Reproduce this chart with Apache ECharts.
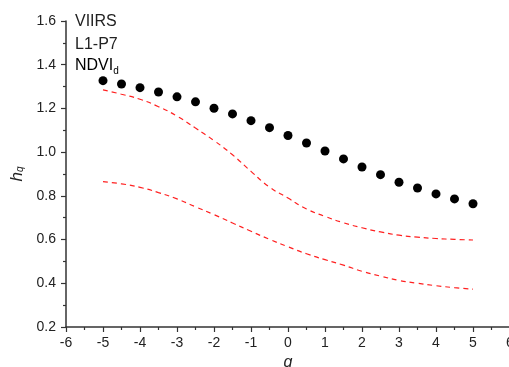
<!DOCTYPE html>
<html>
<head>
<meta charset="utf-8">
<script src="https://cdn.jsdelivr.net/npm/echarts@6/dist/echarts.min.js"></script>
<style>html,body{margin:0;padding:0;background:#fff;}#c{width:509px;height:367px;}</style>
</head>
<body>
<div id="c"></div>
<script>
const qValues = [-5,-4.5,-4,-3.5,-3,-2.5,-2,-1.5,-1,-0.5,0,0.5,1,1.5,2,2.5,3,3.5,4,4.5,5];
const hq = [1.327,1.312,1.295,1.275,1.253,1.230,1.201,1.175,1.144,1.112,1.076,1.042,1.005,0.969,0.932,0.897,0.862,0.836,0.809,0.786,0.764];
const upperBound = [1.285,1.265,1.242,1.208,1.165,1.110,1.053,0.988,0.912,0.840,0.790,0.740,0.706,0.677,0.654,0.635,0.620,0.611,0.605,0.601,0.598];
const lowerBound = [0.865,0.855,0.839,0.815,0.786,0.750,0.714,0.676,0.638,0.601,0.567,0.535,0.508,0.483,0.455,0.433,0.413,0.400,0.389,0.380,0.373];
const labels = ['VIIRS','L1-P7','NDVI'];

const chart = echarts.init(document.getElementById('c'), null, {renderer:'canvas'});
const pair = (xs, ys) => xs.map((x,i)=>[x, ys[i]]);
const axisColor = '#333';
const font = 'Liberation Sans, Arial, sans-serif';
chart.setOption({
  animation:false,
  backgroundColor:'#fff',
  grid:{left:66, top:21, width:444, height:306, containLabel:false, outerBoundsMode:'none'},
  xAxis:{
    type:'value', min:-6, max:6, interval:1,
    name:'q', nameLocation:'middle', nameGap:27,
    nameTextStyle:{fontFamily:font, fontSize:16, fontStyle:'italic', color:'#222'},
    axisLine:{onZero:false, lineStyle:{color:axisColor, width:1.5}},
    axisTick:{show:true, length:5, lineStyle:{color:axisColor, width:1.2}},
    minorTick:{show:true, splitNumber:2, length:3, lineStyle:{color:axisColor, width:1.2}},
    axisLabel:{fontFamily:font, fontSize:14, color:'#222', margin:9, hideOverlap:false},
    splitLine:{show:false}
  },
  yAxis:{
    type:'value', min:0.2, max:1.6, interval:0.2,
    name:'{h|h}{s|q}', nameLocation:'middle', nameGap:38, nameRotate:90,
    nameTextStyle:{rich:{
      h:{fontFamily:font, fontSize:17, fontStyle:'italic', color:'#222'},
      s:{fontFamily:font, fontSize:10, fontStyle:'italic', color:'#222', verticalAlign:'bottom', padding:[7,0,0,0]}
    }},
    axisLine:{onZero:false, lineStyle:{color:axisColor, width:1.5}},
    axisTick:{show:true, length:5, lineStyle:{color:axisColor, width:1.2}},
    minorTick:{show:true, splitNumber:2, length:3, lineStyle:{color:axisColor, width:1.2}},
    axisLabel:{fontFamily:font, fontSize:14, color:'#222', margin:10, formatter:v=>v.toFixed(1)},
    splitLine:{show:false}
  },
  graphic:[
    {type:'text', left:75, top:14, style:{text:labels[0], font:'16px Liberation Sans, Arial', fill:'#222'}},
    {type:'text', left:75, top:37, style:{text:labels[1], font:'16px Liberation Sans, Arial', fill:'#222'}},
    {type:'text', left:75, top:58, style:{text:'{a|'+labels[2]+'}{b|d}', rich:{a:{fontSize:16, fontFamily:font, color:'#222'}, b:{fontSize:10, fontFamily:font, color:'#222', padding:[11,0,0,0]}}}}
  ],
  series:[
    {type:'scatter', data:pair(qValues,hq), symbol:'circle', symbolSize:9, itemStyle:{color:'#000', opacity:1}, z:3},
    {type:'line', data:pair(qValues,upperBound), smooth:true, showSymbol:false, lineStyle:{color:'#ff2020', width:1.2, type:[5,4]}},
    {type:'line', data:pair(qValues,lowerBound), smooth:true, showSymbol:false, lineStyle:{color:'#ff2020', width:1.2, type:[5,4]}}
  ]
});
</script>
</body>
</html>
